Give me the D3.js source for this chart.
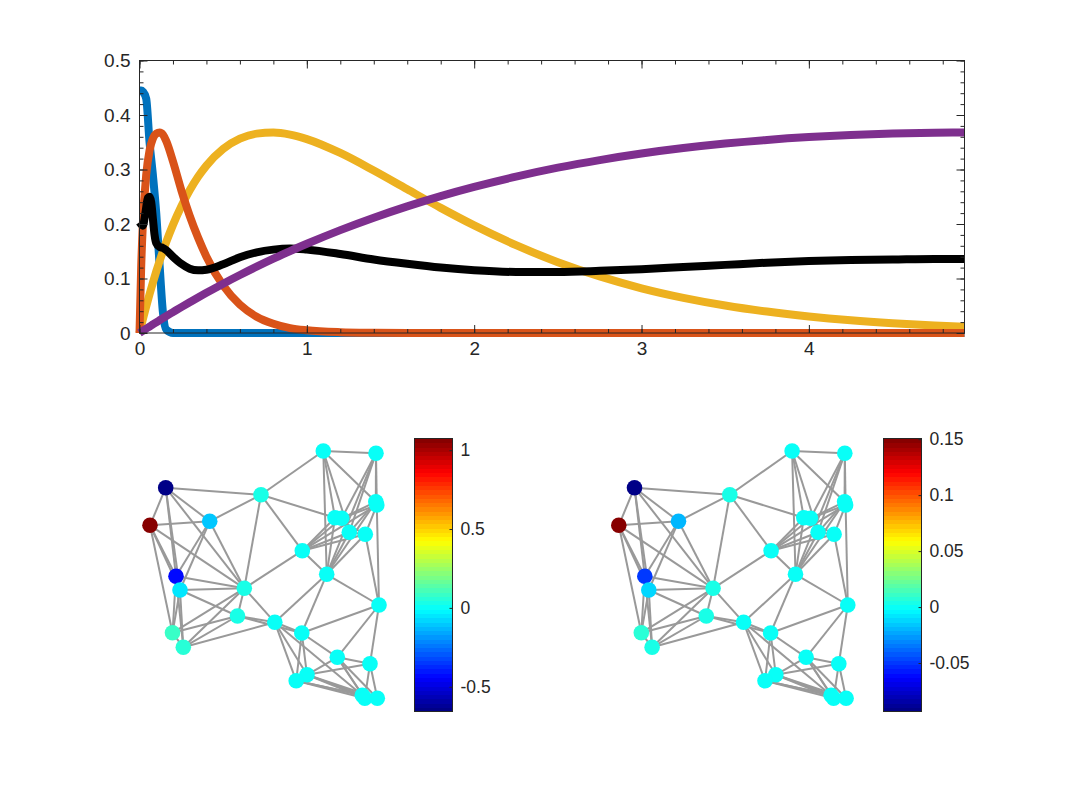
<!DOCTYPE html>
<html><head><meta charset="utf-8">
<script src="https://cdn.jsdelivr.net/npm/d3@7"></script>
<style>
body{margin:0;background:#fff}
text{font-family:"Liberation Sans",Arial,Helvetica,sans-serif;fill:#262626}
</style>
</head><body>
<svg id="c" width="1067" height="800"></svg>
<script>
// ---------- top panel data ----------
const tSamples = [0,0.01,0.02,0.04,0.06,0.08,0.1,0.12,0.14,0.16,0.2,0.25,0.3,0.35,0.4,0.5,0.6,0.7,0.8,0.9,1,1.2,1.4,1.6,1.8,2,2.25,2.5,2.75,3,3.25,3.5,3.75,4,4.25,4.5,4.75,4.93];
const blueVals   = [0.445,0.445,0.443,0.43,0.35,0.29,0.22,0.125,0.038,0.006,0,0,0,0,0,0,0,0,0,0,0,0,0,0,0,0,0,0,0,0,0,0,0,0,0,0,0,0];
const orangeVals = [0,0.12,0.2,0.29,0.335,0.357,0.366,0.368,0.364,0.352,0.315,0.262,0.215,0.175,0.14,0.087,0.052,0.03,0.017,0.009,0.005,0.0015,0.0004,0,0,0,0,0,0,0,0,0,0,0,0,0,0,0];
const yellowVals = [0,0.0127,0.025,0.0487,0.0712,0.0926,0.1128,0.1319,0.150,0.1671,0.1984,0.2326,0.2618,0.2865,0.3071,0.3377,0.3565,0.3658,0.3678,0.364,0.3558,0.3303,0.2981,0.2637,0.2296,0.1974,0.1612,0.1299,0.1038,0.0821,0.0646,0.0505,0.0393,0.0304,0.0234,0.018,0.0138,0.0114];
const purpleVals = [0,0.002,0.004,0.0079,0.0119,0.0157,0.0196,0.0234,0.0272,0.031,0.0384,0.0476,0.0565,0.0653,0.0738,0.0905,0.1064,0.1217,0.1363,0.1504,0.1637,0.1888,0.2116,0.2324,0.2512,0.2681,0.2869,0.3033,0.3173,0.3293,0.3393,0.3476,0.3543,0.3595,0.3633,0.3659,0.3674,0.3679];
const blackT    = [0,0.02,0.035,0.05,0.06,0.07,0.08,0.09,0.1,0.12,0.14,0.16,0.2,0.25,0.3,0.35,0.4,0.5,0.6,0.7,0.8,0.9,1,1.2,1.4,1.6,1.8,2,2.25,2.5,2.75,3,3.25,3.5,3.75,4,4.25,4.5,4.75,4.93];
const blackVals = [0.203,0.197,0.22,0.248,0.25,0.24,0.21,0.18,0.165,0.158,0.156,0.152,0.14,0.127,0.118,0.115,0.116,0.126,0.139,0.148,0.153,0.155,0.153,0.145,0.135,0.127,0.12,0.115,0.112,0.112,0.114,0.117,0.121,0.125,0.129,0.132,0.134,0.135,0.136,0.136];
const xTickVals = [0,1,2,3,4];
const yTickVals = [0,0.1,0.2,0.3,0.4,0.5];
const xDomain = [0,4.93];
const yDomain = [0,0.5];

// ---------- network data ----------
const nodeIds = ["A","B","C","D","E1","E2","F","G","H1","H2","I","J","K","L","M","N","O","P","Q","R","S","T","U","V","W","X","Y","Z1","Z2","AA"];
const nodeX = [183.3,236,25.7,121,235.8,236.8,10,69.7,195,201.7,209.3,225.3,162.3,36,186.7,40,104.3,239,97.5,134.8,161.8,32.5,43.3,197.3,230,167,156.2,222.3,224.8,237.3];
const nodeY = [11,13.3,47.7,54.8,61.8,65,85.3,81.3,77.7,78.3,92.3,94.3,110.7,136.3,134.3,150,148.3,165,176,182.3,193,192.8,207.3,217.3,223.8,234.8,240.8,255.3,258.3,258.3];
const valuesLeft  = [0.01,0.01,-0.657,0.04,0.01,0.01,1.074,-0.1,0.01,0.01,0.01,0.01,0.01,-0.44,0.01,-0.06,0.04,0.01,0.03,0.01,0.01,0.10,0.07,0.01,0.01,0.01,0.01,0.01,0.01,0.01];
const valuesRight = [0.0005,0.0005,-0.0933,0.003,0.0005,0.0005,0.1506,-0.019,0.0005,0.0005,0.0005,0.0005,0.0005,-0.048,0.0005,-0.011,0.003,0.0005,0.003,0.0005,0.0005,0.006,0.003,0.0005,0.0005,0.0005,0.0005,0.0005,0.0005,0.0005];
const edgeList = [
 ["A","B"],["A","D"],["A","H1"],["A","I"],["A","E1"],["A","M"],
 ["B","E1"],["B","E2"],["B","H2"],["B","I"],["B","M"],
 ["C","D"],["C","F"],["C","L"],["C","G"],["C","O"],["C","N"],
 ["D","G"],["D","H1"],["D","K"],["D","O"],
 ["E1","E2"],["E1","H2"],["E2","H2"],["E1","I"],["E2","K"],["E2","J"],["E1","M"],["E2","P"],
 ["F","G"],["F","L"],["F","T"],["F","O"],["F","N"],
 ["G","L"],["G","N"],["G","O"],
 ["H1","H2"],["H1","K"],["H2","K"],["H1","M"],["H2","I"],["H1","J"],
 ["I","J"],["I","K"],["I","M"],
 ["J","K"],["J","M"],["J","P"],
 ["K","M"],["K","O"],
 ["L","O"],["L","T"],["L","U"],["L","N"],
 ["M","R"],["M","S"],["M","P"],
 ["N","O"],["N","Q"],["N","T"],["N","U"],
 ["O","Q"],["O","R"],["O","T"],["O","U"],
 ["P","S"],["P","V"],["P","W"],
 ["Q","R"],["Q","T"],["Q","U"],["Q","S"],
 ["R","S"],["R","U"],["R","X"],["R","Y"],["R","Z1"],
 ["S","V"],["S","X"],["S","Y"],
 ["T","U"],
 ["V","W"],["V","X"],["V","Z1"],["V","Z2"],["V","AA"],
 ["W","X"],["W","Z2"],["W","AA"],
 ["X","Y"],["X","Z1"],["X","Z2"],["X","AA"],["Y","Z1"],["Y","Z2"],["Y","AA"],
 ["Z1","Z2"],["Z1","AA"],["Z2","AA"]
];
const cbarLeftRange = [-0.657,1.074];
const cbarLeftTicks = [-0.5,0,0.5,1];
const cbarRightRange = [-0.0933,0.1506];
const cbarRightTicks = [-0.05,0,0.05,0.1,0.15];

// ---------- drawing ----------
const svg = d3.select("#c");
const axisColor = "#262626";

const x = d3.scaleLinear().domain(xDomain).range([139.5,964.5]);
const y = d3.scaleLinear().domain(yDomain).range([333,60.5]);

const series = [
  {t:tSamples, v:blueVals, c:"#0072BD"},
  {t:tSamples, v:yellowVals, c:"#EDB120"},
  {t:tSamples, v:orangeVals, c:"#D95319"},
  {t:blackT, v:blackVals, c:"#000000"},
  {t:tSamples, v:purpleVals, c:"#7E2F8E"}
];
const line = d3.line().x(d=>x(d[0])).y(d=>y(d[1])).curve(d3.curveMonotoneX);
const gLines = svg.append("g");
series.forEach(s=>{
  gLines.append("path").attr("d", line(s.t.map((t,i)=>[t,s.v[i]])))
    .attr("fill","none").attr("stroke",s.c).attr("stroke-width",8)
    .attr("stroke-linejoin","round");
});

const xMinor = d3.range(0,4.93,0.2);
const yMinor = d3.range(0,0.501,0.02);
function styleAxis(fs){
  return g=>{
    g.select(".domain").remove();
    g.selectAll("line").attr("stroke",axisColor).attr("stroke-width",1);
    g.selectAll("text").attr("font-size",fs).attr("fill",axisColor).style("font-family","'Liberation Sans',Arial,sans-serif");
  };
}
const FS = 19;
svg.append("g").attr("transform",`translate(0,${y(0)})`).call(d3.axisBottom(x).tickValues(xMinor).tickSize(-4).tickFormat("").tickSizeOuter(0)).call(styleAxis(FS));
svg.append("g").attr("transform",`translate(0,${y(0)})`).call(d3.axisBottom(x).tickValues(xTickVals).tickSize(-8).tickPadding(9).tickFormat(d3.format("d")).tickSizeOuter(0)).call(styleAxis(FS));
svg.append("g").attr("transform",`translate(0,${y(0.5)})`).call(d3.axisTop(x).tickValues(xMinor).tickSize(-4).tickFormat("").tickSizeOuter(0)).call(styleAxis(FS));
svg.append("g").attr("transform",`translate(0,${y(0.5)})`).call(d3.axisTop(x).tickValues(xTickVals).tickSize(-8).tickFormat("").tickSizeOuter(0)).call(styleAxis(FS));
svg.append("g").attr("transform",`translate(${x(0)},0)`).call(d3.axisLeft(y).tickValues(yMinor).tickSize(-4).tickFormat("").tickSizeOuter(0)).call(styleAxis(FS));
svg.append("g").attr("transform",`translate(${x(0)},0)`).call(d3.axisLeft(y).tickValues(yTickVals).tickSize(-8).tickPadding(9).tickFormat(d=>d===0?"0":d3.format(".1f")(d)).tickSizeOuter(0)).call(styleAxis(FS));
svg.append("g").attr("transform",`translate(${x(4.93)},0)`).call(d3.axisRight(y).tickValues(yMinor).tickSize(-4).tickFormat("").tickSizeOuter(0)).call(styleAxis(FS));
svg.append("g").attr("transform",`translate(${x(4.93)},0)`).call(d3.axisRight(y).tickValues(yTickVals).tickSize(-8).tickFormat("").tickSizeOuter(0)).call(styleAxis(FS));
svg.append("rect").attr("x",x(0)).attr("y",y(0.5)).attr("width",x(4.93)-x(0)).attr("height",y(0)-y(0.5))
  .attr("fill","none").attr("stroke",axisColor).attr("stroke-width",1);

function jet(t){
  let i = Math.floor(t*64); i = Math.max(0,Math.min(63,i));
  const u = (i+0.5)/64;
  const cl = v=>Math.max(0,Math.min(1,v));
  const r = cl(1.5-Math.abs(4*u-3)), g = cl(1.5-Math.abs(4*u-2)), b = cl(1.5-Math.abs(4*u-1));
  return d3.rgb(r*255,g*255,b*255).toString();
}

const ly = d3.scaleLinear().domain([0,270]).range([440,710]);
const nodeIndex = new Map(nodeIds.map((id,i)=>[id,i]));

function drawNetwork(xr, values, range){
  const lx = d3.scaleLinear().domain([0,240]).range(xr);
  const cnorm = d3.scaleLinear().domain(range).range([0,1]).clamp(true);
  const g = svg.append("g");
  edgeList.forEach(([a,b])=>{
    const i=nodeIndex.get(a), j=nodeIndex.get(b);
    g.append("line").attr("x1",lx(nodeX[i])).attr("y1",ly(nodeY[i]))
      .attr("x2",lx(nodeX[j])).attr("y2",ly(nodeY[j]))
      .attr("stroke","#999999").attr("stroke-width",2);
  });
  nodeIds.forEach((id,i)=>{
    g.append("circle").attr("cx",lx(nodeX[i])).attr("cy",ly(nodeY[i])).attr("r",7.8)
      .attr("fill",jet(cnorm(values[i])));
  });
}
function drawColorbar(x0, x1, range, ticks){
  const cy = d3.scaleLinear().domain(range).range([711.5,438.5]);
  const g = svg.append("g");
  const n = 64, h = (711.5-438.5)/n;
  for(let k=0;k<n;k++){
    g.append("rect").attr("x",x0).attr("width",x1-x0)
      .attr("y",711.5-(k+1)*h).attr("height",h+0.6)
      .attr("fill",jet((k+0.5)/n)).attr("shape-rendering","crispEdges");
  }
  g.append("rect").attr("x",x0).attr("y",438.5).attr("width",x1-x0).attr("height",273)
    .attr("fill","none").attr("stroke",axisColor).attr("stroke-width",1);
  svg.append("g").attr("transform",`translate(${x1},0)`)
    .call(d3.axisRight(cy).tickValues(ticks).tickSize(-3).tickPadding(8).tickFormat(d=>String(+d.toFixed(2))).tickSizeOuter(0))
    .call(styleAxis(17.5));
}
drawNetwork([140,380], valuesLeft, cbarLeftRange);
drawNetwork([608.8,848.8], valuesRight, cbarRightRange);
drawColorbar(414.5,452.5,cbarLeftRange,cbarLeftTicks);
drawColorbar(883.5,921.5,cbarRightRange,cbarRightTicks);
</script>
</body></html>
